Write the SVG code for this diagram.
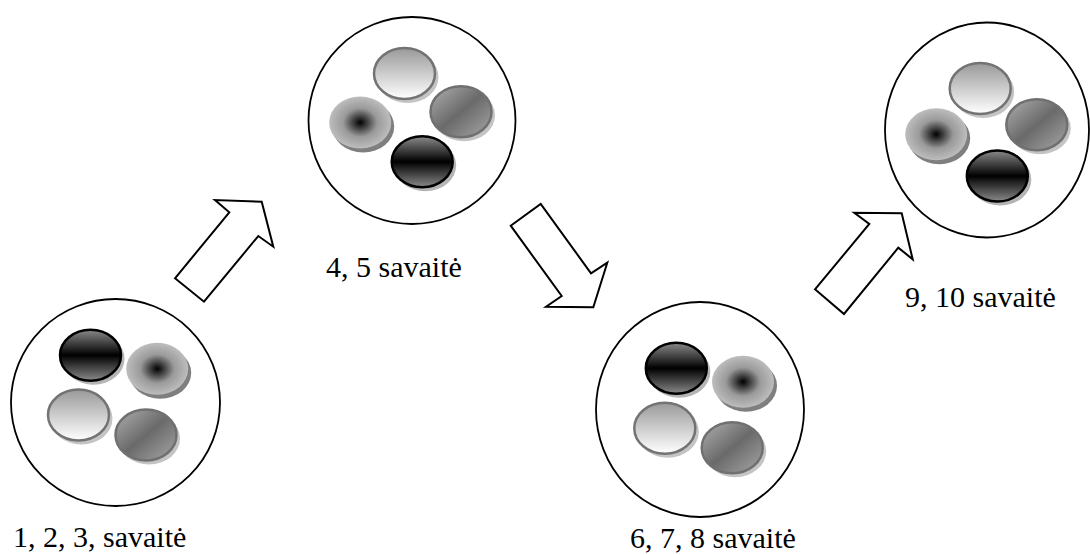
<svg xmlns="http://www.w3.org/2000/svg" width="1090" height="555" viewBox="0 0 1090 555">
  <style>
    .big { fill: #ffffff; stroke: #000000; stroke-width: 1.8; }
    .arrow { fill: #ffffff; stroke: #000000; stroke-width: 2; stroke-linejoin: miter; }
    text { font-family: "Liberation Serif", "Times New Roman", Tinos, "Nimbus Roman", "Nimbus Roman No9 L", FreeSerif, "Noto Serif", "DejaVu Serif", Georgia, Times, serif; font-size: 30px; fill: #000000; }
  </style>
  <defs>
    <linearGradient id="gBlack" x1="0" y1="0" x2="0" y2="1">
      <stop offset="0" stop-color="#8a8a8a"/>
      <stop offset="0.5" stop-color="#000000"/>
      <stop offset="1" stop-color="#8a8a8a"/>
    </linearGradient>
    <linearGradient id="gLight" x1="0" y1="0" x2="0" y2="1">
      <stop offset="0" stop-color="#999999"/>
      <stop offset="1" stop-color="#ffffff"/>
    </linearGradient>
    <linearGradient id="gDiag" x1="0" y1="0" x2="1" y2="1">
      <stop offset="0" stop-color="#b0b0b0"/>
      <stop offset="0.5" stop-color="#6a6a6a"/>
      <stop offset="1" stop-color="#a8a8a8"/>
    </linearGradient>
    <radialGradient id="gRad" cx="0.5" cy="0.5" r="0.5">
      <stop offset="0" stop-color="#000000"/>
      <stop offset="0.55" stop-color="#9a9a9a"/>
      <stop offset="1" stop-color="#bdbdbd"/>
    </radialGradient>
    <g id="dBlack">
      <ellipse cx="3" cy="3.5" rx="31" ry="26" fill="#b5b5b5"/>
      <ellipse cx="0" cy="0" rx="30.5" ry="25.5" fill="url(#gBlack)" stroke="#000000" stroke-width="2.5"/>
    </g>
    <g id="dLight">
      <ellipse cx="3" cy="3.5" rx="31" ry="26" fill="#c4c4c4"/>
      <ellipse cx="0" cy="0" rx="30.5" ry="25.5" fill="url(#gLight)" stroke="#737373" stroke-width="2.5"/>
    </g>
    <g id="dDiag">
      <ellipse cx="3" cy="3.5" rx="31" ry="26" fill="#c4c4c4"/>
      <ellipse cx="0" cy="0" rx="30.5" ry="25.5" fill="url(#gDiag)" stroke="#707070" stroke-width="2.5"/>
    </g>
    <g id="dRad">
      <ellipse cx="3" cy="4" rx="31" ry="26" fill="#7f7f7f"/>
      <ellipse cx="0" cy="0" rx="31" ry="26" fill="url(#gRad)"/>
    </g>
  </defs>

  <g id="connectors">
    <polygon class="arrow" points="175,278.3 204,301.7 258.3,236 273.3,246.7 261.7,201.7 215,200 229.3,212.3"/>
    <polygon class="arrow" points="510.7,225.7 540.7,204 591,273.3 607.3,262.7 593.3,307.3 546,306.7 561.7,296"/>
    <polygon class="arrow" points="815,289.3 844,314 898.3,247.7 912.7,259.3 901.7,213.3 854.3,212.7 869.3,224"/>
  </g>

  <g id="node1">
    <ellipse class="big" cx="115.5" cy="402.5" rx="104.5" ry="103.5"/>
    <use href="#dBlack" x="90.5" y="355.2"/>
    <use href="#dRad" x="157.2" y="368.8"/>
    <use href="#dLight" x="78.5" y="415"/>
    <use href="#dDiag" x="146" y="435"/>
    <text x="13" y="547">1, 2, 3, savaitė</text>
  </g>

  <g id="node2">
    <ellipse class="big" cx="412" cy="120.5" rx="103.5" ry="103.5"/>
    <use href="#dLight" x="404.5" y="73.5"/>
    <use href="#dRad" x="360.2" y="122.5"/>
    <use href="#dDiag" x="461" y="111.8"/>
    <use href="#dBlack" x="422.2" y="161.8"/>
    <text x="326" y="277">4, 5 savaitė</text>
  </g>

  <g id="node3">
    <ellipse class="big" cx="700" cy="409.5" rx="104" ry="107.5"/>
    <use href="#dBlack" x="676.3" y="368.3"/>
    <use href="#dRad" x="743" y="381.8"/>
    <use href="#dLight" x="664.8" y="428.2"/>
    <use href="#dDiag" x="732.2" y="447.7"/>
    <text x="630" y="548">6, 7, 8 savaitė</text>
  </g>

  <g id="node4">
    <ellipse class="big" cx="987" cy="130" rx="102" ry="107.5"/>
    <use href="#dLight" x="980.2" y="88.5"/>
    <use href="#dRad" x="936.2" y="134.3"/>
    <use href="#dDiag" x="1036.8" y="124.8"/>
    <use href="#dBlack" x="997.3" y="176"/>
    <text x="905" y="307">9, 10 savaitė</text>
  </g>
</svg>
